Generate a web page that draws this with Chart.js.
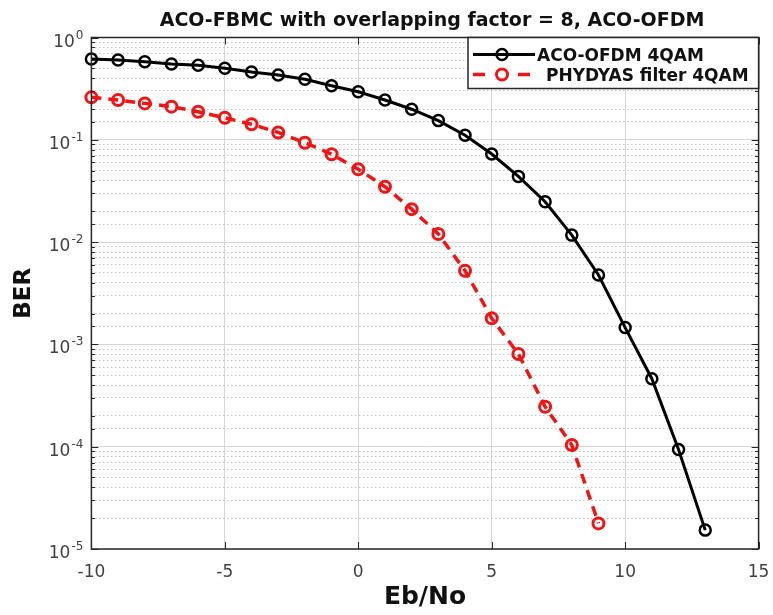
<!DOCTYPE html>
<html>
<head>
<meta charset="utf-8">
<title>ACO-FBMC BER</title>
<script src="https://cdn.jsdelivr.net/npm/chart.js@4.4.1/dist/chart.umd.min.js"></script>
<style>
  html, body { margin: 0; padding: 0; background: #fff; }
  #wrap { width: 773px; height: 615px; }
</style>
</head>
<body>
<div id="wrap"><canvas id="berChart" width="773" height="615"></canvas></div>
<script>
// --- data ---
const ebNoOfdm = [-10, -9, -8, -7, -6, -5, -4, -3, -2, -1, 0, 1, 2, 3, 4, 5, 6, 7, 8, 9, 10, 11, 12, 13];
const berOfdm = [0.616, 0.603, 0.580, 0.551, 0.535, 0.500, 0.460, 0.430, 0.390, 0.338, 0.295, 0.245,
                 0.199, 0.154, 0.111, 0.0726, 0.0439, 0.0248, 0.0117, 0.00477, 0.00146, 4.62e-4, 9.4e-5, 1.53e-5];

const ebNoPhydyas = [-10, -9, -8, -7, -6, -5, -4, -3, -2, -1, 0, 1, 2, 3, 4, 5, 6, 7, 8, 9];
const berPhydyas = [0.260, 0.245, 0.227, 0.211, 0.188, 0.164, 0.142, 0.118, 0.0937, 0.0722, 0.0515, 0.0348,
                    0.0210, 0.0120, 0.00525, 0.0018, 8.05e-4, 2.46e-4, 1.04e-4, 1.78e-5];

const xTickValues = [-10, -5, 0, 5, 10, 15];
const yDecadeExponents = [0, -1, -2, -3, -4, -5];

const seriesLabels = ['ACO-OFDM 4QAM', 'PHYDYAS filter 4QAM'];
const titleText = 'ACO-FBMC with overlapping factor = 8, ACO-OFDM';

const FONT = "'DejaVu Sans', 'Liberation Sans', Arial, sans-serif";
const RED = '#f01414';

function isDecade(v) {
  const l = Math.log10(v);
  return Math.abs(l - Math.round(l)) < 1e-6;
}

// MATLAB-like box, inward ticks, tick labels, title and legend
const matlabAxes = {
  id: 'matlabAxes',
  beforeDraw(chart) {
    const ctx = chart.ctx;
    ctx.save();
    ctx.fillStyle = '#fff';
    ctx.fillRect(0, 0, chart.width, chart.height);
    ctx.restore();
  },
  afterDatasetsDraw(chart) {
    const ctx = chart.ctx;
    const a = chart.chartArea;
    const xs = chart.scales.x;
    const ys = chart.scales.y;
    ctx.save();

    // inward tick marks
    ctx.strokeStyle = '#262626';
    ctx.lineWidth = 1;
    ctx.beginPath();
    ys.ticks.forEach(t => {
      const py = Math.round(ys.getPixelForValue(t.value)) + 0.5;
      const len = isDecade(t.value) ? 7 : 3.5;
      ctx.moveTo(a.left, py); ctx.lineTo(a.left + len, py);
      ctx.moveTo(a.right, py); ctx.lineTo(a.right - len, py);
    });
    xs.ticks.forEach(t => {
      const px = Math.round(xs.getPixelForValue(t.value)) + 0.5;
      ctx.moveTo(px, a.bottom); ctx.lineTo(px, a.bottom - 7);
      ctx.moveTo(px, a.top); ctx.lineTo(px, a.top + 7);
    });
    ctx.stroke();

    // axes box
    ctx.lineWidth = 1.5;
    ctx.strokeRect(a.left, a.top, a.right - a.left, a.bottom - a.top);

    // y tick labels 10^n
    ctx.fillStyle = '#404040';
    ctx.textBaseline = 'alphabetic';
    yDecadeExponents.forEach(e => {
      const py = ys.getPixelForValue(Math.pow(10, e));
      const right = a.left - 8;
      ctx.font = '12px ' + FONT;
      ctx.textAlign = 'right';
      const expText = String(e);
      const ew = ctx.measureText(expText).width;
      ctx.fillText(expText, right, py + 1);
      ctx.font = '17px ' + FONT;
      ctx.fillText('10', right - ew - 1, py + 9);
    });

    // x tick labels
    ctx.font = '17px ' + FONT;
    ctx.textAlign = 'center';
    xTickValues.forEach(v => {
      ctx.fillText(String(v), xs.getPixelForValue(v), a.bottom + 28);
    });

    // title
    ctx.fillStyle = '#111';
    ctx.font = 'bold 19px ' + FONT;
    ctx.textAlign = 'center';
    ctx.fillText(titleText, (a.left + a.right) / 2 + 7, 26);

    // legend
    const lx = 468, ly = a.top, lw = a.right - 468, lh = 51;
    ctx.fillStyle = '#fff';
    ctx.fillRect(lx, ly, lw, lh);
    ctx.strokeStyle = '#262626';
    ctx.lineWidth = 1.5;
    ctx.strokeRect(lx, ly, lw, lh);

    const ds = chart.data.datasets;
    const rows = [ly + 17, ly + 37];
    ds.forEach((d, i) => {
      const y = rows[i];
      ctx.strokeStyle = d.borderColor;
      ctx.lineWidth = d.borderWidth;
      ctx.beginPath();
      if (d.borderDash && d.borderDash.length) {
        ctx.moveTo(473, y); ctx.lineTo(485, y);
        ctx.moveTo(518, y); ctx.lineTo(530, y);
      } else {
        ctx.moveTo(473, y); ctx.lineTo(535, y);
      }
      ctx.stroke();
      ctx.lineWidth = d.pointBorderWidth;
      ctx.beginPath();
      ctx.arc(502, y, d.pointRadius, 0, Math.PI * 2);
      ctx.stroke();
      ctx.fillStyle = '#111';
      ctx.font = 'bold 17px ' + FONT;
      ctx.textAlign = 'left';
      ctx.fillText(d.label, i === 0 ? 537 : 546, y + 6.5);
    });
    ctx.restore();
  }
};

new Chart(document.getElementById('berChart'), {
  type: 'line',
  data: {
    datasets: [
      {
        label: seriesLabels[0],
        data: ebNoOfdm.map((x, i) => ({ x: x, y: berOfdm[i] })),
        borderColor: '#000',
        borderWidth: 3,
        pointRadius: 5.5,
        pointBorderWidth: 2.5,
        pointBorderColor: '#000',
        pointBackgroundColor: 'rgba(0,0,0,0)',
        tension: 0,
        clip: false
      },
      {
        label: seriesLabels[1],
        data: ebNoPhydyas.map((x, i) => ({ x: x, y: berPhydyas[i] })),
        borderColor: RED,
        borderWidth: 3.5,
        borderDash: [10, 7],
        pointRadius: 5.5,
        pointBorderWidth: 3,
        pointBorderColor: RED,
        pointBackgroundColor: 'rgba(0,0,0,0)',
        tension: 0,
        clip: false
      }
    ]
  },
  options: {
    responsive: false,
    animation: false,
    layout: { padding: { top: 37.5, right: 14.4, left: 0, bottom: 0 } },
    plugins: {
      legend: { display: false },
      title: { display: false },
      tooltip: { enabled: false }
    },
    scales: {
      x: {
        type: 'linear',
        min: -10,
        max: 15,
        ticks: { stepSize: 5, display: false },
        grid: { color: '#d6d6d6', lineWidth: 1, drawTicks: false },
        border: { display: false },
        title: {
          display: true,
          text: 'Eb/No',
          color: '#111',
          font: { family: FONT, size: 25, weight: 'bold' },
          padding: { top: 0, bottom: 3 }
        },
        afterFit: s => { s.height = 66; }
      },
      y: {
        type: 'logarithmic',
        min: 1e-5,
        max: 1,
        ticks: { display: false, autoSkip: false },
        grid: {
          drawTicks: false,
          lineWidth: 1,
          color: c => (c.tick && !isDecade(c.tick.value)) ? '#c2c2c2' : '#d6d6d6'
        },
        border: {
          display: false,
          dash: c => (c.tick && !isDecade(c.tick.value)) ? [1.5, 2.5] : []
        },
        title: {
          display: true,
          text: 'BER',
          color: '#111',
          font: { family: FONT, size: 23, weight: 'bold' },
          padding: { top: 10, bottom: 0 }
        },
        afterFit: s => { s.width = 91.4; }
      }
    }
  },
  plugins: [matlabAxes]
});
</script>
</body>
</html>
